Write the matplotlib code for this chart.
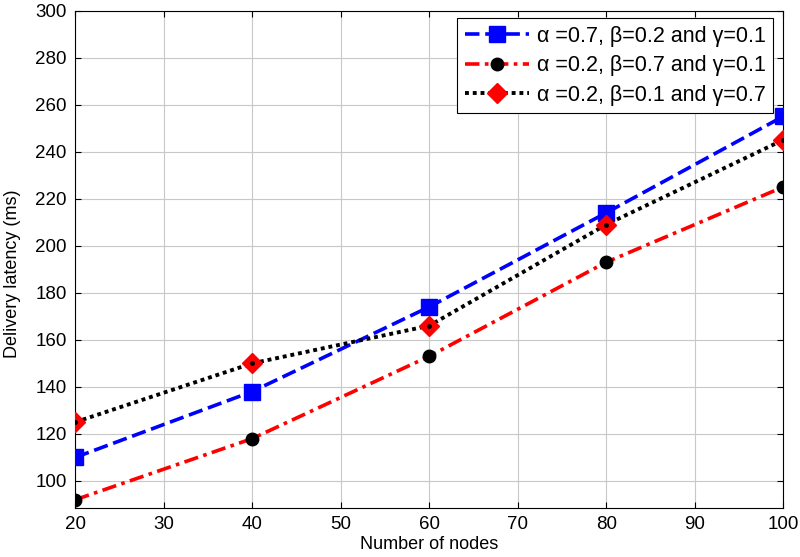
import matplotlib
matplotlib.use("Agg")
import matplotlib.pyplot as plt

nodes = [20, 40, 60, 80, 100]
series_a = [110, 138, 174, 214, 255]   # alpha=0.7, beta=0.2, gamma=0.1
series_b = [92, 118, 153, 193, 225]    # alpha=0.2, beta=0.7, gamma=0.1
series_c = [125, 150, 166, 209, 245]   # alpha=0.2, beta=0.1, gamma=0.7
labels = ["\u03b1 =0.7, \u03b2=0.2 and \u03b3=0.1",
          "\u03b1 =0.2, \u03b2=0.7 and \u03b3=0.1",
          "\u03b1 =0.2, \u03b2=0.1 and \u03b3=0.7"]
xticks = [20, 30, 40, 50, 60, 70, 80, 90, 100]
yticks = [100, 120, 140, 160, 180, 200, 220, 240, 260, 280, 300]

plt.rcParams['font.family'] = ['Liberation Sans', 'DejaVu Sans']

fig = plt.figure(figsize=(8, 5.57), dpi=100)
ax = fig.add_axes([0.094, 0.088, 0.885, 0.893])

ax.plot(nodes, series_a, color='blue', linestyle=(0, (4, 1.6)), linewidth=2.6,
        marker='s', markersize=12, markerfacecolor='blue', markeredgecolor='blue',
        label=labels[0], zorder=3)
ax.plot(nodes, series_b, color='red', linestyle=(0, (4, 1.5, 1, 1.5)), linewidth=2.6,
        marker='o', markersize=9, markerfacecolor='black', markeredgecolor='black',
        label=labels[1], zorder=3)
ax.plot(nodes, series_c, color='black', linestyle=(0, (1, 1)), linewidth=2.8,
        marker='D', markersize=10, markerfacecolor='red', markeredgecolor='red',
        label=labels[2], zorder=3)
ax.plot(nodes, series_c, linestyle='none', marker='o', markersize=2.5,
        color='black', zorder=4)

ax.set_xlim(20, 100)
ax.set_ylim(88.5, 300)
ax.set_xticks(xticks)
ax.set_yticks(yticks)
ax.tick_params(direction='in', top=True, right=True, labelsize=13.5, length=4)
ax.tick_params(axis='x', pad=6)
ax.tick_params(axis='y', pad=6)
ax.grid(True, color='#c8c8c8', linewidth=0.8)
ax.set_axisbelow(True)
ax.set_xlabel("Number of nodes", fontsize=13)
ax.xaxis.set_label_coords(0.5, -0.056)
ax.set_ylabel("Delivery latency (ms)", fontsize=13)
ax.yaxis.set_label_coords(-0.077, 0.47)

leg = ax.legend(loc='upper right', fontsize=15.5, fancybox=False, edgecolor='black',
                framealpha=1, handlelength=3.0, handletextpad=0.35, borderpad=0.35,
                labelspacing=0.4, borderaxespad=0,
                bbox_to_anchor=(0.986, 0.985))
leg.get_frame().set_linewidth(0.8)

fig.savefig("out.png", dpi=100)
